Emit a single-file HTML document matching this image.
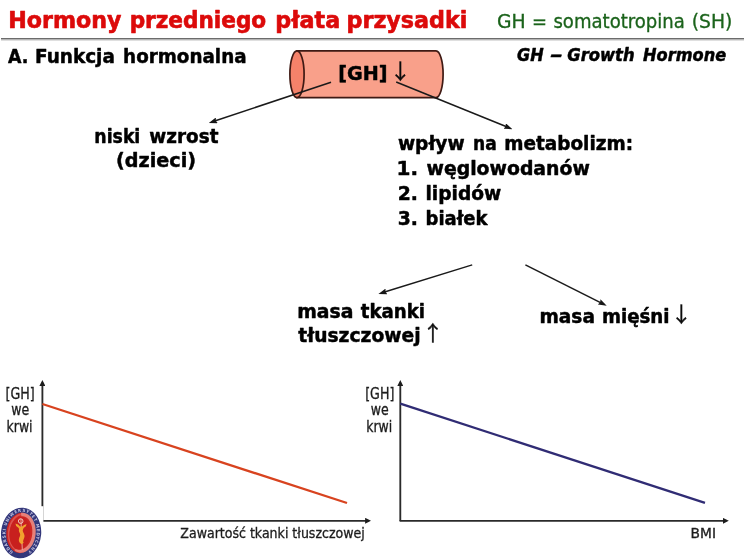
<!DOCTYPE html>
<html lang="pl"><head><meta charset="utf-8"><title>Hormony przedniego płata przysadki</title>
<style>
html,body{margin:0;padding:0;background:#fff;}
body{width:744px;height:560px;overflow:hidden;position:relative;}
svg{position:absolute;left:0;top:0;display:block;}
text{font-family:"DejaVu Sans Condensed","DejaVu Sans","Liberation Sans",sans-serif;}
.b{font-weight:bold;fill:#000;stroke:#000;stroke-width:.45px;stroke-linejoin:round;}
.t{font-weight:bold;fill:#dc0a0a;stroke:#dc0a0a;stroke-width:.6px;stroke-linejoin:round;}
.g{fill:#1b631b;stroke:#1b631b;stroke-width:.3px;}
.s{fill:#1c1c1c;stroke:#1c1c1c;stroke-width:.3px;}
.aw{font-family:"Noto Sans CJK JP","DejaVu Sans",sans-serif;font-weight:normal;font-size:21.2px;fill:#0c0c0c;stroke:#0c0c0c;stroke-width:.4px;}
</style></head><body>
<svg width="744" height="560" viewBox="0 0 744 560">
<defs>
<marker id="ah" viewBox="0 0 8.5 6" refX="5.5" refY="3" markerWidth="8.5" markerHeight="6" markerUnits="userSpaceOnUse" orient="auto"><path d="M0,0 L8.5,3 L0,6 L1.2,3 Z" fill="#161616"/></marker>
<marker id="ax" viewBox="0 0 6 6" refX="3.4" refY="3" markerWidth="6" markerHeight="6" markerUnits="userSpaceOnUse" orient="auto"><path d="M0,0 L6,3 L0,6 Z" fill="#1c1c1c"/></marker>
</defs>
<rect x="1" y="38.1" width="743" height="1.3" fill="#5c5c5c"/>
<rect x="1" y="39.4" width="743" height="1" fill="#b0b0b0"/>

<text y="28" font-size="23.3" class="t"><tspan x="8.24" textLength="113.2" lengthAdjust="spacingAndGlyphs">Hormony</tspan> <tspan x="129.67" textLength="136.54" lengthAdjust="spacingAndGlyphs">przedniego</tspan> <tspan x="275.34" textLength="64.87" lengthAdjust="spacingAndGlyphs">płata</tspan> <tspan x="346.54" textLength="120.81" lengthAdjust="spacingAndGlyphs">przysadki</tspan></text>
<text y="27.9" font-size="20.2" class="g"><tspan x="497.02" textLength="28.65" lengthAdjust="spacingAndGlyphs">GH</tspan> <tspan x="531.97" textLength="14.99" lengthAdjust="spacingAndGlyphs">=</tspan> <tspan x="553.45" textLength="131.42" lengthAdjust="spacingAndGlyphs">somatotropina</tspan> <tspan x="691.72" textLength="40.66" lengthAdjust="spacingAndGlyphs">(SH)</tspan></text>
<text y="62.6" font-size="20" class="b"><tspan x="7.92" textLength="20.42" lengthAdjust="spacingAndGlyphs">A.</tspan> <tspan x="35.1" textLength="79.74" lengthAdjust="spacingAndGlyphs">Funkcja</tspan> <tspan x="123.11" textLength="123.43" lengthAdjust="spacingAndGlyphs">hormonalna</tspan></text>
<text y="61" font-size="17.5" class="b" font-style="italic"><tspan x="517.12" textLength="26.63" lengthAdjust="spacingAndGlyphs">GH</tspan> <tspan x="550.33" textLength="12.65" lengthAdjust="spacingAndGlyphs">–</tspan> <tspan x="567.23" textLength="67.37" lengthAdjust="spacingAndGlyphs">Growth</tspan> <tspan x="643.02" textLength="83.12" lengthAdjust="spacingAndGlyphs">Hormone</tspan></text>

<!-- cylinder -->
<path d="M297,50.8 L436,50.8 A7.1,23.4 0 0 1 436,97.6 L297,97.6 Z" fill="#f9a08a" stroke="#3f1a14" stroke-width="1.7"/>
<ellipse cx="297" cy="74.2" rx="7.1" ry="23.4" fill="#f5826a" stroke="#3f1a14" stroke-width="1.7"/>
<text y="79.6" font-size="19.5" class="b"><tspan x="338.23" textLength="49.25" lengthAdjust="spacingAndGlyphs">[GH]</tspan> <tspan class="aw" x="389.8" y="78.7">↓</tspan></text>

<line x1="331" y1="82.2" x2="211.65" y2="122.05" stroke="#1a1a1a" stroke-width="1.5" marker-end="url(#ah)"/>
<line x1="396.2" y1="82" x2="509.72" y2="128.07" stroke="#1a1a1a" stroke-width="1.5" marker-end="url(#ah)"/>

<text y="142.6" font-size="20" class="b"><tspan x="94.36" textLength="45.93" lengthAdjust="spacingAndGlyphs">niski</tspan> <tspan x="149.32" textLength="69.14" lengthAdjust="spacingAndGlyphs">wzrost</tspan></text>
<text y="167.4" font-size="20" class="b"><tspan x="116.06" textLength="79.92" lengthAdjust="spacingAndGlyphs">(dzieci)</tspan></text>

<text y="149.8" font-size="20" class="b"><tspan x="397.93" textLength="66.69" lengthAdjust="spacingAndGlyphs">wpływ</tspan> <tspan x="472.98" textLength="23.68" lengthAdjust="spacingAndGlyphs">na</tspan> <tspan x="504.2" textLength="128.9" lengthAdjust="spacingAndGlyphs">metabolizm:</tspan></text>
<text y="174.8" font-size="20" class="b"><tspan x="396.5" textLength="21.51" lengthAdjust="spacingAndGlyphs">1.</tspan> <tspan x="426.53" textLength="163.3" lengthAdjust="spacingAndGlyphs">węglowodanów</tspan></text>
<text y="199.6" font-size="20" class="b"><tspan x="397.68" textLength="20.21" lengthAdjust="spacingAndGlyphs">2.</tspan> <tspan x="425.49" textLength="75.83" lengthAdjust="spacingAndGlyphs">lipidów</tspan></text>
<text y="224.6" font-size="20" class="b"><tspan x="397.68" textLength="20.21" lengthAdjust="spacingAndGlyphs">3.</tspan> <tspan x="425.53" textLength="62.01" lengthAdjust="spacingAndGlyphs">białek</tspan></text>

<line x1="472.2" y1="264.9" x2="381.27" y2="293.01" stroke="#1a1a1a" stroke-width="1.5" marker-end="url(#ah)"/>
<line x1="525.4" y1="264.9" x2="604.02" y2="304.35" stroke="#1a1a1a" stroke-width="1.5" marker-end="url(#ah)"/>

<text y="317.6" font-size="20" class="b"><tspan x="297.28" textLength="56.19" lengthAdjust="spacingAndGlyphs">masa</tspan> <tspan x="360.83" textLength="64.22" lengthAdjust="spacingAndGlyphs">tkanki</tspan></text>
<text y="342.4" font-size="20" class="b"><tspan x="298.33" textLength="122.26" lengthAdjust="spacingAndGlyphs">tłuszczowej</tspan> <tspan class="aw" x="422.3" y="341.1">↑</tspan></text>
<text y="323.3" font-size="20" class="b"><tspan x="539.49" textLength="55.46" lengthAdjust="spacingAndGlyphs">masa</tspan> <tspan x="601.91" textLength="67.64" lengthAdjust="spacingAndGlyphs">mięśni</tspan> <tspan class="aw" x="670.7" y="321.8">↓</tspan></text>

<!-- left graph -->
<line x1="42.4" y1="521" x2="42.40" y2="382.6" stroke="#2a2a2a" stroke-width="1.85" marker-end="url(#ax)"/>
<line x1="41.7" y1="520.8" x2="368.50" y2="520.80" stroke="#2a2a2a" stroke-width="1.85" marker-end="url(#ax)"/>
<line x1="42.4" y1="404" x2="347" y2="503" stroke="#d8431f" stroke-width="2.3"/>
<text x="5.6" y="399.2" font-size="15.6" class="s" textLength="29.2" lengthAdjust="spacingAndGlyphs">[GH]</text>
<text x="11.2" y="414.7" font-size="15" class="s" textLength="18" lengthAdjust="spacingAndGlyphs">we</text>
<text x="6.6" y="431.8" font-size="15" class="s" textLength="26" lengthAdjust="spacingAndGlyphs">krwi</text>
<text x="180.3" y="537.8" font-size="14.6" class="s" textLength="184.5" lengthAdjust="spacingAndGlyphs">Zawartość tkanki tłuszczowej</text>

<!-- right graph -->
<line x1="400.3" y1="521" x2="400.30" y2="382.6" stroke="#2a2a2a" stroke-width="1.85" marker-end="url(#ax)"/>
<line x1="399.6" y1="520.8" x2="726.20" y2="520.80" stroke="#2a2a2a" stroke-width="1.85" marker-end="url(#ax)"/>
<line x1="400.3" y1="403.7" x2="705" y2="502.9" stroke="#302c74" stroke-width="2.3"/>
<text x="365.2" y="399.2" font-size="15.6" class="s" textLength="29.2" lengthAdjust="spacingAndGlyphs">[GH]</text>
<text x="370.8" y="414.7" font-size="15" class="s" textLength="18" lengthAdjust="spacingAndGlyphs">we</text>
<text x="366.2" y="431.8" font-size="15" class="s" textLength="26" lengthAdjust="spacingAndGlyphs">krwi</text>
<text x="690.6" y="538.4" font-size="14.4" class="s" textLength="25.4" lengthAdjust="spacingAndGlyphs">BMI</text>

<!-- logo -->
<rect x="0" y="506.2" width="43.4" height="53.8" fill="#fff"/>
<g transform="rotate(5 21.1 533.0)">
<ellipse cx="21.1" cy="533.0" rx="20.1" ry="25.4" fill="#33377a"/>
<ellipse cx="20.8" cy="533.0" rx="14.5" ry="20.2" fill="#cf2622"/>
<ellipse cx="21.400000000000002" cy="532.7" rx="12.6" ry="18.3" fill="none" stroke="#f0a096" stroke-width="3.4" stroke-dasharray="29 42 40 0" opacity=".75"/>
<ellipse cx="21.4" cy="532.7" rx="12.6" ry="18.3" fill="none" stroke="#e8807a" stroke-width="1.8" opacity=".5"/>
<ellipse cx="19.900000000000002" cy="533.5" rx="10.4" ry="16.4" fill="#c8201e"/>
<path id="ring" d="M14.74,552.45 A15.6,21.3 0 1 1 27.46,552.45" fill="none"/>
<text font-size="4.3" font-weight="bold" fill="#c4c4e0" letter-spacing=".2"><textPath href="#ring" textLength="100" lengthAdjust="spacing">GDAŃSKI UNIWERSYTET MEDYCZNY</textPath></text>
</g>
<g transform="translate(-0.3 1.2)">
<path d="M21.2,517.5 L22.6,548.5" stroke="#f1c4b4" stroke-width=".8" fill="none"/>
<circle cx="21" cy="519.9" r="2.3" fill="none" stroke="#f7ddd6" stroke-width=".9"/>
<path d="M15.8,522.4 Q18.6,523.2 20.4,525.2 L22.4,525.2 Q24.2,523.4 26.8,522.8 L26.2,525 Q23.8,526.4 23,528.2 L20,528.2 Q18.6,526 16.4,524.8 Z" fill="#f2a22e"/>
<path d="M19.6,527.5 C18,530.5 21.6,532 20.2,535 C18.8,538 18.4,540.6 21.8,543 L24,541.6 C22.2,539.4 25.2,537.2 24.8,534.2 C24.4,531.2 22,530 23.6,527.5 Z" fill="#f2a22e"/>
</g>
</svg>
</body></html>
